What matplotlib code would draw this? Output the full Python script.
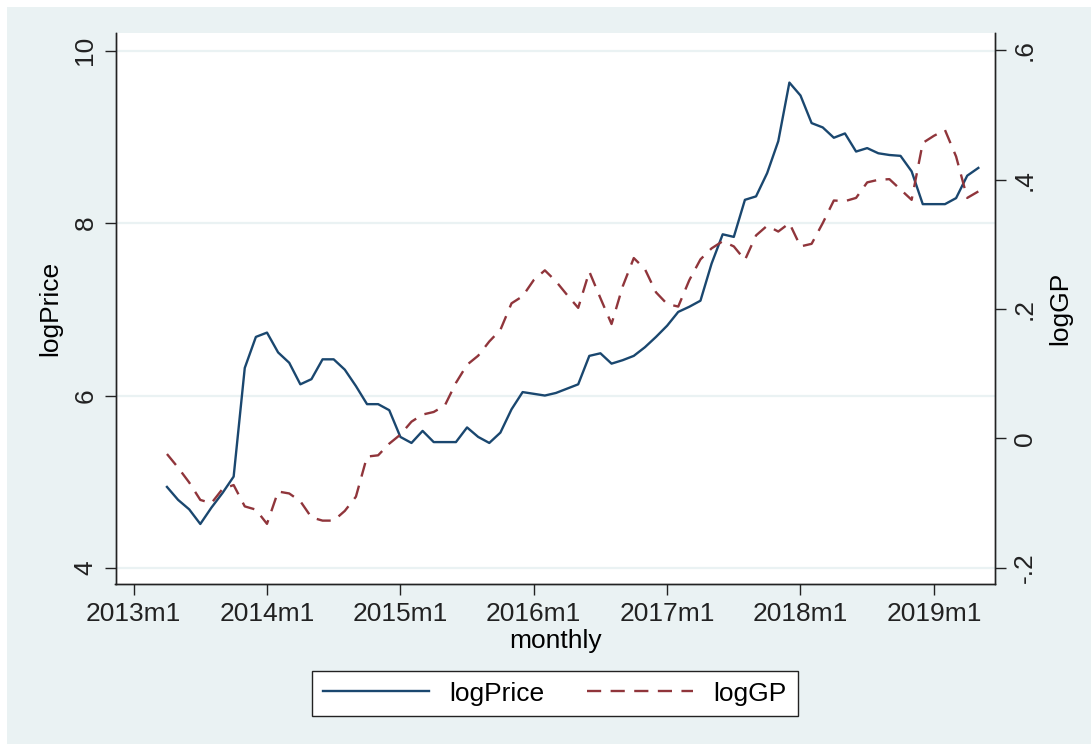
from matplotlib import pyplot as plt
from matplotlib.patches import Rectangle
import numpy as np

# month index, 0 = 2013m1 (data run 2013m4 .. 2019m5)
months = list(range(3, 77))

log_price = [4.94, 4.79, 4.68, 4.51, 4.70, 4.87, 5.06, 6.32, 6.68, 6.73,
             6.50, 6.38, 6.13, 6.19, 6.42, 6.42, 6.30, 6.11, 5.90, 5.90,
             5.83, 5.52, 5.45, 5.59, 5.46, 5.46, 5.46, 5.63, 5.52, 5.45,
             5.57, 5.84, 6.04, 6.02, 6.00, 6.03, 6.08, 6.13, 6.46, 6.49,
             6.37, 6.41, 6.46, 6.56, 6.68, 6.81, 6.97, 7.03, 7.10, 7.53,
             7.87, 7.84, 8.27, 8.31, 8.58, 8.95, 9.63, 9.48, 9.16, 9.11,
             8.99, 9.04, 8.83, 8.87, 8.81, 8.79, 8.78, 8.60, 8.22, 8.22,
             8.22, 8.29, 8.55, 8.64]

log_gp = [-0.024, -0.045, -0.068, -0.095, -0.100, -0.078, -0.072, -0.105, -0.110, -0.132,
          -0.082, -0.085, -0.097, -0.122, -0.127, -0.127, -0.112, -0.090, -0.028, -0.026,
          -0.008, 0.006, 0.026, 0.037, 0.041, 0.051, 0.086, 0.114, 0.128, 0.150,
          0.168, 0.209, 0.220, 0.245, 0.260, 0.243, 0.222, 0.202, 0.258, 0.217,
          0.177, 0.235, 0.279, 0.262, 0.226, 0.208, 0.204, 0.245, 0.277, 0.294,
          0.305, 0.297, 0.276, 0.314, 0.329, 0.320, 0.333, 0.297, 0.301, 0.333,
          0.368, 0.367, 0.372, 0.396, 0.400, 0.401, 0.385, 0.369, 0.457, 0.468,
          0.477, 0.436, 0.372, 0.382]

xtick_pos = [0, 12, 24, 36, 48, 60, 72]
xtick_labels = ["2013m1", "2014m1", "2015m1", "2016m1", "2017m1", "2018m1", "2019m1"]
left_ticks = [4, 6, 8, 10]
right_ticks = [-0.2, 0, 0.2, 0.4, 0.6]
right_labels = ["-.2", "0", ".2", ".4", ".6"]

plt.rcParams['font.family'] = ['Liberation Sans', 'DejaVu Sans']

blue = '#1a476f'
red = '#90353b'
bg = '#eaf2f3'

fig = plt.figure(figsize=(10.91, 7.44), dpi=100, facecolor='white')
fig.patches.append(Rectangle((7 / 1091, 0), 1 - 7 / 1091, 1 - 7 / 744,
                             transform=fig.transFigure, facecolor=bg,
                             edgecolor='none', zorder=-10))

ax = fig.add_axes([115.5 / 1091, 1 - 584 / 744, (995 - 115.5) / 1091, (584 - 33) / 744])
ax.set_facecolor('white')
ax2 = ax.twinx()

l1, = ax.plot(months, log_price, color=blue, lw=1.7, zorder=3)
l2, = ax2.plot(months, log_gp, color=red, lw=1.7, dashes=(6, 4))

ax.set_xlim(-1.63, 77.5)
ax.set_ylim(3.814, 10.205)
ax2.set_ylim(-0.225, 0.627)

ax.set_xticks(xtick_pos)
ax.set_xticklabels(xtick_labels, fontsize=19)
ax.set_yticks(left_ticks)
ax.set_yticklabels([str(t) for t in left_ticks], fontsize=19, rotation=90, va='center')
ax2.set_yticks(right_ticks)
ax2.set_yticklabels(right_labels, fontsize=19, rotation=90, va='center')

ax.yaxis.grid(True, color=bg, lw=1.6)
ax.set_axisbelow(True)

for a in (ax, ax2):
    a.spines['top'].set_visible(False)
    for s in ('left', 'right', 'bottom'):
        a.spines[s].set_linewidth(1.0)
        a.spines[s].set_color('#222222')
    a.tick_params(direction='out', length=8, width=1.0, colors='#222222', pad=5)

ax.set_xlabel("monthly", fontsize=19, labelpad=2)
ax.set_ylabel("logPrice", fontsize=19, labelpad=8)
ax2.set_ylabel("logGP", fontsize=19, labelpad=8, rotation=90)

leg = fig.legend([l1, l2], ["logPrice", "logGP"], loc='center',
                 bbox_to_anchor=(555 / 1091, 1 - 693.5 / 744), ncol=2,
                 fontsize=19, frameon=True, fancybox=False, handlelength=4.0,
                 columnspacing=1.6, handletextpad=0.8, borderpad=0.4,
                 framealpha=1.0)
leg.get_frame().set_edgecolor('#222222')
leg.get_frame().set_linewidth(1.0)
leg.get_frame().set_facecolor('white')

fig.savefig("out.png", dpi=100, facecolor=fig.get_facecolor())
